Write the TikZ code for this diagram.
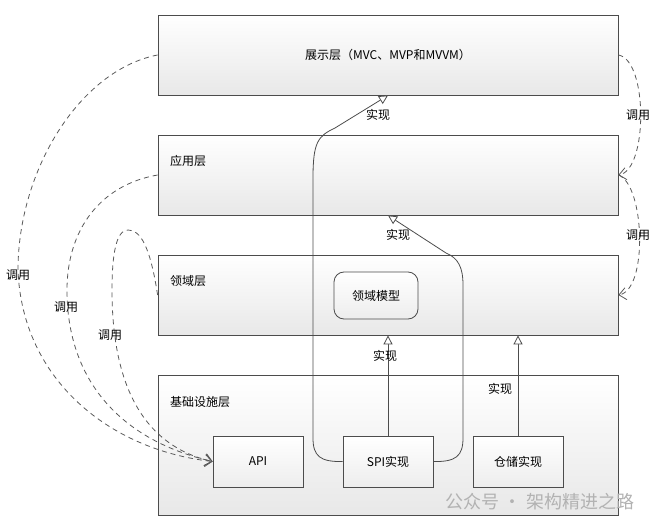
\documentclass[tikz,border=0pt]{standalone}
\usepackage{fontspec}
\setmainfont{Noto Sans CJK SC}
\usetikzlibrary{arrows.meta}
\tikzset{
  layer/.style={draw=black!70, line width=0.8pt, top color=white, bottom color=black!9, minimum width=460pt, minimum height=80pt, inner sep=0pt, font=\fontsize{12}{14}\selectfont},
  unit/.style={draw=black!70, line width=0.8pt, top color=white, bottom color=black!7, minimum width=90pt, minimum height=51pt, inner sep=0pt, font=\fontsize{12}{14}\selectfont},
  txt/.style={font=\fontsize{12}{14}\selectfont, inner sep=0pt},
  impl/.style={draw=black!70, line width=0.8pt, -{Triangle[open,length=9pt,width=9pt,fill=white]}},
  call/.style={draw=black!65, line width=0.8pt, dash pattern=on 5pt off 4pt, -{Straight Barb[length=7pt,width=12pt]}},
}
\begin{document}
\begin{tikzpicture}[x=1pt,y=-1pt]
\useasboundingbox (0,0) rectangle (658,529);
\node[layer] (pres) at (388,55) {展示层（MVC、MVP和MVVM）};
\node[layer] (app) at (388,175) {};
\node[layer] (dom) at (388,295) {};
\node[layer,minimum height=140pt] (infra) at (388,445) {};
\node[txt,anchor=west] (appname) at (170,161) {应用层};
\node[txt,anchor=west] (domname) at (170,281) {领域层};
\node[txt,anchor=west] (infraname) at (170,402) {基础设施层};
\node[unit,rounded corners=10pt,minimum width=84pt,minimum height=47pt] (model) at (376,295.5) {领域模型};
\node[unit] (api) at (258,461.5) {API};
\node[unit] (spi) at (388,461.5) {SPI实现};
\node[unit] (repo) at (518,461.5) {仓储实现};
% 实现
\draw[impl] (spi.north) -- (spi.north |- dom.south);
\draw[impl] (repo.north) -- (repo.north |- dom.south);
\draw[impl] (spi.west) .. controls (320,462) and (313,456) .. (313,438) -- (313,178) .. controls (313,142) and (318,136) .. (335,128) -- (pres.south);
\draw[impl] (spi.east) .. controls (456,462) and (463,456) .. (463,438) -- (463,285) .. controls (463,267) and (458,258) .. (446,253) -- (app.south);
\node[txt] (impl1) at (378,115) {实现};
\node[txt] (impl2) at (398,235) {实现};
\node[txt] (impl3) at (385,356) {实现};
\node[txt] (impl4) at (500,389) {实现};
% 调用
\draw[call] (pres.east) .. controls (648,60) and (648,170) .. (app.east);
\draw[call] (app.east) .. controls (645,185) and (648,290) .. (dom.east);
\draw[call] (pres.west) .. controls (80,70) and (18,170) .. (18,270) .. controls (22,380) and (110,450) .. (api.west);
\draw[call] (app.west) .. controls (100,185) and (67,230) .. (67,290) .. controls (67,380) and (120,440) .. (api.west);
\draw[call] (dom.west) .. controls (150,245) and (140,230) .. (128,230) .. controls (116,230) and (112,255) .. (112,290) .. controls (112,380) and (140,445) .. (api.west);
\node[txt] (call1) at (638,115) {调用};
\node[txt] (call2) at (638,235) {调用};
\node[txt] (call3) at (18,275) {调用};
\node[txt] (call4) at (66,307) {调用};
\node[txt] (call5) at (110,335) {调用};
\node[font=\fontsize{18}{20}\selectfont, text=black!30, inner sep=0pt] (mark) at (540,502) {公众号 · 架构精进之路};
\end{tikzpicture}
\end{document}
